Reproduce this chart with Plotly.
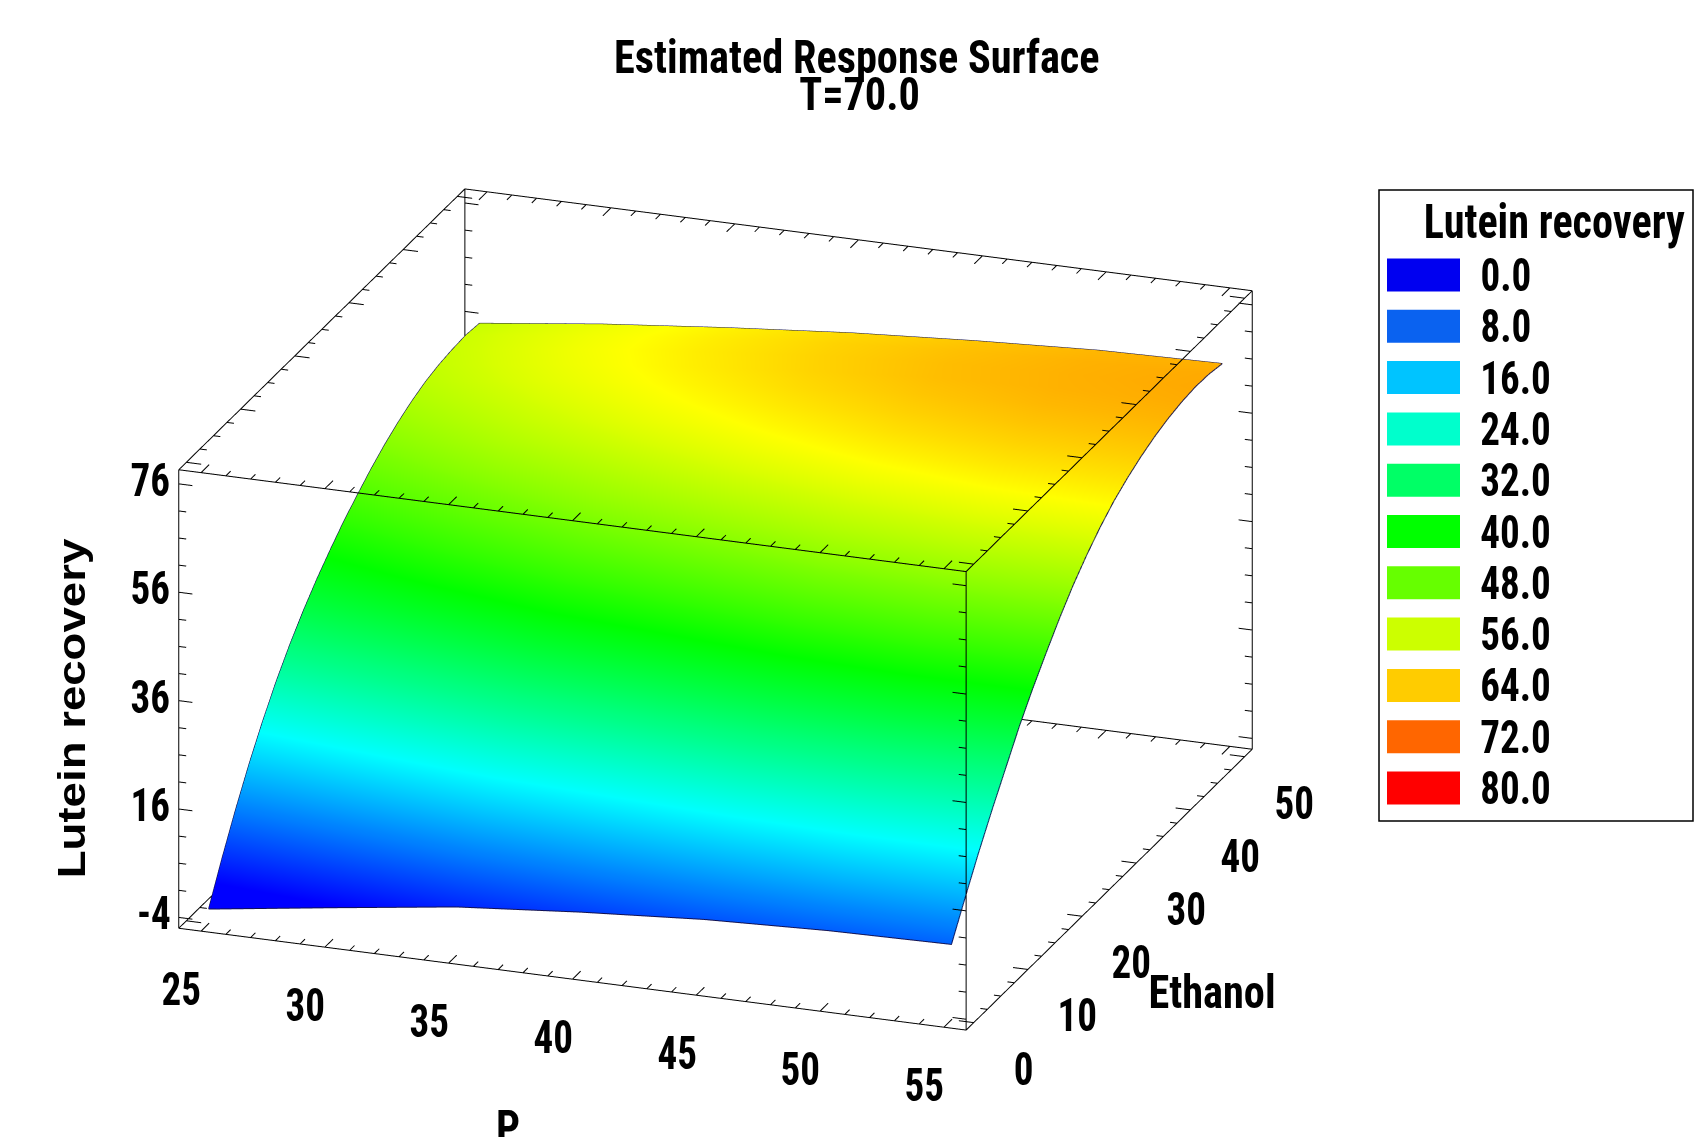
import plotly.graph_objects as go

P = [25, 30, 35, 40, 45, 50, 55]
E = [0, 2.5, 5, 7.5, 10, 12.5, 15, 17.5, 20, 22.5, 25, 27.5, 30, 32.5, 35, 37.5, 40, 42.5, 45, 47.5, 50]
Z_P25 = [-3.3, 3.7, 10.2, 16.2, 21.6, 26.5, 30.8, 34.6, 38, 41, 43.8, 46.2, 48.5, 50.5, 52.2, 53.6, 54.7, 55.4, 55.8, 56, 55.7]
Z_P30 = [-0.1, 6.8, 13.1, 19, 24.4, 29.2, 33.6, 37.6, 41.1, 44.2, 47, 49.4, 51.7, 53.7, 55.3, 56.6, 57.7, 58.4, 58.8, 58.8, 58.5]
Z_P35 = [3, 9.7, 15.9, 21.7, 27, 32, 36.4, 40.3, 43.8, 47, 49.8, 52.2, 54.3, 56.3, 58, 59.3, 60.3, 61, 61.3, 61.2, 60.8]
Z_P40 = [5, 11.5, 17.5, 23.2, 28.5, 33.5, 38, 42, 45.7, 49, 51.9, 54.4, 56.7, 58.7, 60.3, 61.6, 62.6, 63.2, 63.4, 63.3, 62.8]
Z_P45 = [6.6, 13, 19, 24.8, 30.2, 35.2, 39.7, 43.8, 47.6, 51, 53.9, 56.4, 58.7, 60.6, 62.2, 63.4, 64.3, 64.9, 65, 64.8, 64.3]
Z_P50 = [7.5, 14, 19.9, 25.6, 30.9, 36, 40.5, 44.6, 48.5, 52, 55, 57.6, 59.9, 61.8, 63.3, 64.5, 65.4, 65.9, 66, 65.9, 65.5]
Z_P55 = [7.9, 14, 19.9, 25.4, 30.6, 35.8, 40.4, 44.6, 48.6, 52.2, 55.3, 58, 60.3, 62.1, 63.6, 64.8, 65.7, 66.3, 66.6, 66.5, 66]
Z_ROWS = [Z_P25, Z_P30, Z_P35, Z_P40, Z_P45, Z_P50, Z_P55]

P_TICKS = [25, 30, 35, 40, 45, 50, 55]
E_TICKS = [0, 10, 20, 30, 40, 50]
Z_TICKS = [-4, 16, 36, 56, 76]
P_RANGE = [24.1, 55.9]
E_RANGE = [-1.4, 51.4]
Z_RANGE = [-6, 78.6]
P_AXIS = [24.0, 56.0]
E_AXIS = [-1.5, 51.5]
Z_AXIS = [-6.2, 78.8]
P_ALL = list(range(25, 56))
E_ALL = [0, 2.5, 5, 7.5, 10, 12.5, 15, 17.5, 20, 22.5, 25, 27.5, 30, 32.5, 35, 37.5, 40, 42.5, 45, 47.5, 50]
Z_ALL = list(range(-4, 77, 5))

LEGEND_VALUES = [0, 8, 16, 24, 32, 40, 48, 56, 64, 72, 80]
LEGEND_COLORS = ["#0000f0", "#0a62f0", "#00c4ff", "#00ffcc", "#00ff66", "#00ff00", "#66ff00",
                 "#ccff00", "#ffcc00", "#ff6600", "#ff0000"]
SCALE_STOPS = [[0, "#0000ff"], [0.25, "#00ffff"], [0.5, "#00ff00"], [0.75, "#ffff00"], [1, "#ff0000"]]
FONT = "Roboto Condensed, Liberation Sans"
FONT_WIDE = "Liberation Sans"
DIGIT_W = 0.73
ZOOM = 1.588

fig = go.Figure()
zcols = [list(c) for c in zip(*Z_ROWS)]
fig.add_trace(go.Surface(
    x=P, y=E, z=zcols, surfacecolor=zcols,
    colorscale=SCALE_STOPS, cmin=0, cmax=80, showscale=False,
    lighting=dict(ambient=1, diffuse=0, specular=0, roughness=1, fresnel=0),
))

# outline of the surface
out_x, out_y, out_z = [], [], []
for i, e in enumerate(E):
    out_x.append(P[0]); out_y.append(e); out_z.append(Z_ROWS[0][i])
for j, p in enumerate(P):
    out_x.append(p); out_y.append(E[-1]); out_z.append(Z_ROWS[j][-1])
for i in range(len(E) - 1, -1, -1):
    out_x.append(P[-1]); out_y.append(E[i]); out_z.append(Z_ROWS[-1][i])
for j in range(len(P) - 1, -1, -1):
    out_x.append(P[j]); out_y.append(E[0]); out_z.append(Z_ROWS[j][0])
fig.add_trace(go.Scatter3d(x=out_x, y=out_y, z=out_z, mode="lines",
                           line=dict(color="#101050", width=2), hoverinfo="skip", showlegend=False))

x0, x1 = P_RANGE; y0, y1 = E_RANGE; z0, z1 = Z_RANGE
bx, by, bz = [], [], []


def add_seg(a, b):
    bx.extend([a[0], b[0], None]); by.extend([a[1], b[1], None]); bz.extend([a[2], b[2], None])


for a, b in [((x0,y0,z0),(x1,y0,z0)), ((x1,y0,z0),(x1,y1,z0)), ((x1,y1,z0),(x0,y1,z0)), ((x0,y1,z0),(x0,y0,z0)),
             ((x0,y0,z1),(x1,y0,z1)), ((x1,y0,z1),(x1,y1,z1)), ((x1,y1,z1),(x0,y1,z1)), ((x0,y1,z1),(x0,y0,z1)),
             ((x0,y0,z0),(x0,y0,z1)), ((x1,y0,z0),(x1,y0,z1)), ((x1,y1,z0),(x1,y1,z1)), ((x0,y1,z0),(x0,y1,z1))]:
    add_seg(a, b)
for yb, sign, zb in [(y0, 1, z0), (y1, -1, z0), (y0, 1, z1), (y1, -1, z1)]:
    for p in P_ALL:
        l = 1.5 if p in P_TICKS else 0.9
        add_seg((p, yb, zb), (p, yb + sign * l, zb))
for xb, sign, zb in [(x1, -1, z0), (x0, 1, z0), (x1, -1, z1), (x0, 1, z1)]:
    for e in E_ALL:
        l = 0.6 if e in E_TICKS else 0.28
        add_seg((xb, e, zb), (xb + sign * l, e, zb))
for xb, sign, yb in [(x0, 1, y0), (x1, -1, y0), (x0, 1, y1), (x1, -1, y1)]:
    for z in Z_ALL:
        l = 0.55 if z in Z_TICKS else 0.3
        add_seg((xb, yb, z), (xb + sign * l, yb, z))
fig.add_trace(go.Scatter3d(x=bx, y=by, z=bz, mode="lines", line=dict(color="#000000", width=2),
                           hoverinfo="skip", showlegend=False))


def text_width(text, size):
    w = sum({".": 0.278, "-": 0.333}.get(ch, 0.556) for ch in text)
    return w * size * DIGIT_W


def label(x, y, z, text, xs=0, ys=0, size=46):
    return dict(x=x, y=y, z=z, text=text, showarrow=False, xshift=xs, yshift=ys,
                font=dict(family=FONT, size=size, color="#000000", weight=700))


ann3d = []
for p in P_TICKS:
    ann3d.append(label(p, y0, z0, str(p), xs=-19, ys=-58))
for e in E_TICKS:
    ann3d.append(label(x1, e, z0, str(e), xs=50, ys=-46))
for z in Z_TICKS:
    ann3d.append(label(x0, y0, z, str(z), xs=-10 - text_width(str(z), 46) / 2, ys=4))

blank = dict(visible=False)
fig.update_layout(
    width=1696, height=1137,
    margin=dict(l=0, r=0, t=0, b=0),
    paper_bgcolor="#ffffff",
    showlegend=False,
    scene=dict(
        domain=dict(x=[0, 0.8436], y=[0, 0.928]),
        xaxis=dict(range=P_AXIS, **blank),
        yaxis=dict(range=E_AXIS, **blank),
        zaxis=dict(range=Z_AXIS, **blank),
        aspectmode="manual",
        aspectratio=dict(x=1.0063 * ZOOM, y=1.001 * 1.0038 * ZOOM, z=0.5858 * 1.0047 * ZOOM),
        camera=dict(projection=dict(type="orthographic"),
                    eye=dict(x=0.3188 * 1.6, y=-0.8783 * 1.6, z=0.3563 * 1.6),
                    up=dict(x=0, y=0, z=1), center=dict(x=0, y=0, z=0)),
        annotations=ann3d,
    ),
)

annotations = []
W, H = 1696.0, 1137.0


def px(x, y, text, size=46, angle=0, family=FONT):
    annotations.append(dict(x=x / W, y=1 - y / H, xref="paper", yref="paper", text=text, showarrow=False,
                            textangle=angle, xanchor="center", yanchor="middle",
                            font=dict(family=family, size=size, color="#000000", weight=700)))


px(857, 57, "Estimated Response Surface")
px(859, 94, "T=70.0")
px(72, 709, "Lutein recovery", size=38, angle=-90, family=FONT_WIDE)
px(508, 1127, "P")
px(1212, 992, "Ethanol")
px(1554, 222, "Lutein recovery", size=48)

shapes = [dict(type="rect", xref="paper", yref="paper", x0=1379 / W, x1=1693 / W, y0=1 - 190 / H, y1=1 - 821 / H,
               line=dict(color="#000000", width=1.5), fillcolor="#ffffff")]
for i, (v, c) in enumerate(zip(LEGEND_VALUES, LEGEND_COLORS)):
    yc = 275 + i * 51.3
    shapes.append(dict(type="rect", xref="paper", yref="paper", x0=1387 / W, x1=1460 / W,
                       y0=1 - (yc - 16.5) / H, y1=1 - (yc + 16.5) / H, line=dict(width=0), fillcolor=c))
    txt = f"{v:.1f}"
    px(1483 + text_width(txt, 46) / 2, yc, txt)

fig.update_layout(annotations=annotations, shapes=shapes)

POST = """
document.body.style.margin='0';
function squeeze(){
  document.querySelectorAll('text.annotation-text').forEach(function(t){
    if(!t.dataset.w0){t.dataset.w0=t.getComputedTextLength();}
    var fs=parseFloat(t.style.fontSize), s=t.textContent;
    var ratio=/^-?[0-9.]+$/.test(s)?0.85:(fs<40?1.2:(fs>47?0.88:0.92));
    t.setAttribute('textLength',parseFloat(t.dataset.w0)*ratio);
    t.setAttribute('lengthAdjust','spacingAndGlyphs');
  });
}
setInterval(squeeze,150);
"""
fig.write_html("out.html", post_script=POST, config=dict(displayModeBar=False))
